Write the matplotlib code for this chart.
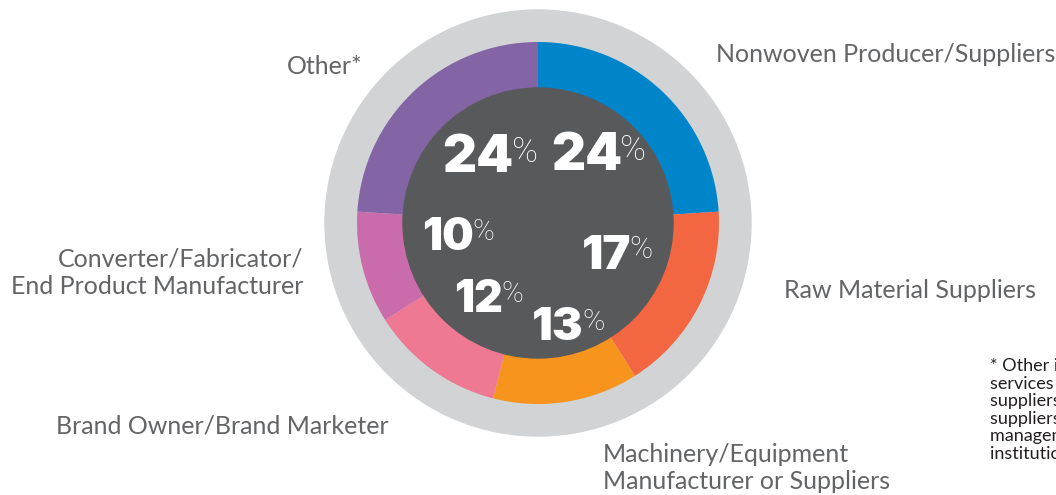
import numpy as np
import matplotlib.pyplot as plt
from matplotlib.patches import Circle

# data, clockwise from 12 o'clock
categories = ["Nonwoven Producer/Suppliers", "Raw Material Suppliers",
              "Machinery/Equipment\nManufacturer or Suppliers",
              "Brand Owner/Brand Marketer",
              "Converter/Fabricator/\nEnd Product Manufacturer", "Other*"]
shares = [24, 17, 13, 12, 10, 24]
colors = ["#0085CA", "#F26641", "#F7941D", "#EF7893", "#CA6CAB", "#8364A4"]

footnote = ("* Other includes\nservices providers,\nsuppliers to the industry,\n"
            "suppliers of testing,\nmanagement consultants,\ninstitutions and academia")

W, H = 1056, 495
fig = plt.figure(figsize=(W / 100, H / 100), dpi=100)
ax = fig.add_axes([0, 0, 1, 1])

cx, cy = 538, H - 223    # centre of the donut, in pixels
ax.add_patch(Circle((cx, cy), 213, color="#D1D3D4", zorder=1))
wedges, _ = ax.pie(shares, colors=colors, startangle=90, counterclock=False,
                   radius=181, center=(cx, cy),
                   wedgeprops=dict(width=46, edgecolor="none", zorder=2))
ax.add_patch(Circle((cx, cy), 135, color="#58595B", zorder=3))

# percentage labels inside the dark disc
num_size = [38, 34, 33, 32, 32, 38]
ang_shift = [8, 3, 2, -3, -7, -1.5]
rad = [85, 75, 104, 95, 91, 90]
cum = np.cumsum([0] + shares[:-1])
for i, v in enumerate(shares):
    mid = 90 - 3.6 * (cum[i] + v / 2) + ang_shift[i]
    x = cx + rad[i] * np.cos(np.radians(mid))
    y = cy - 3 + rad[i] * np.sin(np.radians(mid))
    t = ax.text(x, y, str(v), ha="center", va="center", color="white",
                fontsize=num_size[i], fontweight=900, family="Inter", zorder=4)
    ax.annotate("%", xy=(0.97, 0.98), xycoords=t, ha="left", va="top",
                color="white", fontsize=num_size[i] * 0.66,
                fontweight="light", family="Roboto", zorder=4)

# category labels
lab = dict(fontsize=18, color="#636466", family="Lato", fontweight="normal")
ax.text(716, H - 55, categories[0], ha="left", va="center", **lab)
ax.text(784, H - 291, categories[1], ha="left", va="center", **lab)
ax.text(603, H - 468, categories[2], ha="left", va="center", linespacing=1.25, **lab)
ax.text(56, H - 426, categories[3], ha="left", va="center", **lab)
ax.text(303, H - 273, categories[4], ha="right", va="center", multialignment="right",
        linespacing=1.25, **lab)
ax.text(362, H - 67, categories[5], ha="right", va="center", **lab)

ax.text(990, H - 358, footnote, ha="left", va="top", fontsize=13, color="#231F20",
        family="Lato", fontweight="normal", linespacing=1.12)

ax.set_xlim(0, W)
ax.set_ylim(0, H)
ax.set_aspect("auto")
ax.axis("off")
fig.savefig("out.png", dpi=100)
